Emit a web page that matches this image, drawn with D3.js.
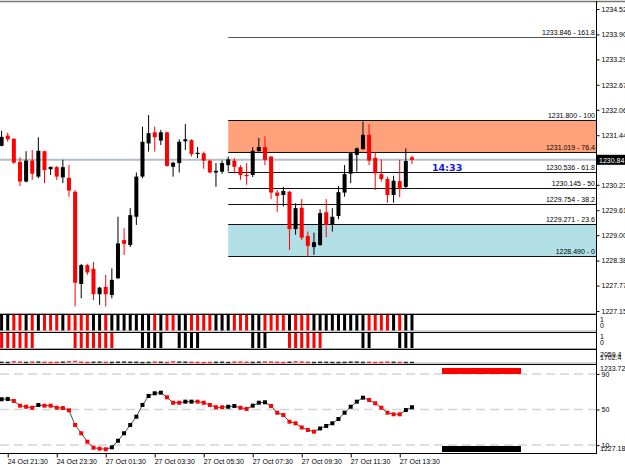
<!DOCTYPE html>
<html>
<head>
<meta charset="utf-8">
<script src="https://cdn.jsdelivr.net/npm/d3@7"></script>
<style>
body{margin:0;background:#fff;}
text{font-family:"Liberation Sans",Arial,sans-serif;}
</style>
</head>
<body>
<div id="chart"></div>
<script>
// M15 candles, 24 Oct 21:15 -> 27 Oct 14:00
const opens  = [1231.18,1231.43,1231.35,1230.79,1230.31,1230.82,1230.43,1231.05,1230.61,1230.66,1230.41,1230.40,1230.06,1227.81,1228.27,1228.18,1227.56,1227.74,1227.54,1227.95,1228.88,1228.76,1229.45,1230.43,1231.24,1231.51,1231.31,1231.51,1230.67,1230.76,1231.29,1231.32,1230.98,1231.00,1230.82,1230.53,1230.55,1230.71,1230.82,1230.66,1230.47,1230.47,1231.05,1231.15,1230.92,1230.04,1229.98,1230.06,1229.15,1229.67,1228.98,1228.71,1228.76,1229.56,1229.25,1229.47,1230.04,1230.50,1230.96,1231.10,1231.45,1230.89,1230.49,1230.37,1229.98,1230.32,1230.18,1230.90];
const highs  = [1231.55,1231.50,1231.37,1230.90,1231.05,1231.08,1231.39,1231.06,1230.67,1230.69,1230.84,1230.71,1230.10,1228.30,1228.30,1228.35,1227.74,1228.03,1228.19,1229.45,1229.17,1229.66,1230.53,1231.65,1231.93,1231.65,1231.57,1231.53,1230.79,1231.34,1231.71,1231.34,1231.15,1231.04,1230.84,1230.76,1230.82,1230.92,1230.88,1230.71,1230.76,1231.15,1231.37,1231.41,1230.93,1230.10,1230.18,1230.08,1229.78,1229.88,1229.09,1229.06,1229.63,1229.88,1229.66,1230.20,1230.71,1231.01,1231.14,1231.77,1231.71,1231.02,1230.85,1230.43,1230.45,1230.84,1231.12,1230.94];
const lows   = [1231.17,1231.28,1230.74,1230.20,1230.29,1230.35,1230.39,1230.27,1230.47,1230.35,1230.27,1229.94,1227.26,1227.46,1228.03,1227.42,1227.30,1227.26,1227.46,1227.93,1228.52,1228.71,1229.25,1230.39,1231.04,1231.04,1231.20,1230.67,1230.43,1230.53,1231.08,1230.92,1230.88,1230.62,1230.51,1230.18,1230.50,1230.55,1230.51,1230.35,1230.23,1230.42,1231.04,1230.71,1229.88,1229.57,1229.70,1228.64,1229.01,1228.88,1228.48,1228.52,1228.74,1228.95,1229.09,1229.39,1229.94,1230.27,1230.55,1231.09,1230.71,1230.10,1230.31,1229.79,1229.79,1229.93,1230.15,1230.74];
const closes = [1231.40,1231.34,1230.77,1230.31,1230.82,1230.50,1231.06,1230.59,1230.67,1230.43,1230.66,1230.09,1227.84,1228.27,1228.09,1227.56,1227.72,1227.56,1227.91,1228.80,1228.79,1229.49,1230.43,1231.28,1231.49,1231.39,1231.51,1230.69,1230.77,1231.28,1231.34,1230.98,1231.01,1230.82,1230.53,1230.57,1230.76,1230.85,1230.67,1230.47,1230.45,1231.06,1231.15,1230.84,1230.04,1229.96,1230.08,1229.15,1229.66,1228.94,1228.74,1228.83,1229.54,1229.25,1229.45,1230.05,1230.49,1231.00,1231.12,1231.45,1230.82,1230.51,1230.37,1229.98,1230.33,1230.13,1230.81,1230.84];

// indicator rows (R = red, B = black, "" = empty)
const trendColors  = "BBRRBRBRRRBRRRRBBRBBBBBBBRBRRBBRRRRBBBRRRBBRRRRBRRRBBBBBBBBBRRRRBRBB".split("");
const signalColors = ["R","R","R","R","R","R","","","","","","","R","R","R","R","R","R","R","","","","","B","B","B","B","","","B","B","B","B","","","","","","","","","B","B","B","","","","R","R","R","R","R","R","","","","","","","B","B","","","","","B","B","B"];
const volValues = [1745,1740,1760,1750,1742,1748,1752,1745,1740,1744,1750,1760,1770,1748,1742,1746,1750,1744,1741,1748,1752,1746,1745,1738,1742,1750,1746,1740,1760,1752,1749,1745,1742,1738,1740,1744,1746,1739,1750,1752,1746,1742,1748,1755,1750,1745,1740,1748,1760,1752,1744,1740,1746,1744,1741,1740,1743,1748,1750,1742,1746,1740,1744,1750,1745,1742,1741,1740];

// oscillator (0-100)
const oscValues = [61.5,61.8,59.6,54.3,53.1,52.0,55.1,54.3,54.3,52.0,51.7,49.1,32.6,23.3,13.8,7.1,6.0,5.3,7.5,14.9,23.3,32.6,41.9,55.1,65.2,68.2,68.9,63.7,57.6,57.6,58.8,58.8,58.8,57.6,55.1,52.5,52.5,53.1,53.9,52.0,50.6,54.3,57.6,58.1,53.9,46.4,43.8,36.3,34.5,29.8,27.0,25.1,28.7,31.5,34.5,39.3,46.4,53.1,58.8,63.3,60.7,57.0,52.0,46.4,44.6,44.6,49.4,52.5];
const oscColors = "BBRRRRBRRRRRRRRRRRBBBBBBBBBRRRBBRRRRRBBRRBBBRRRRRRRRBBBBBBBBRRRRRRBB".split("");
const oscLevels = [90, 50, 10];

// fibonacci retracement
const fibLevels = [0, 23.6, 38.2, 50, 61.8, 76.4, 100, 161.8];
const fibPrices = [1228.490, 1229.271, 1229.754, 1230.145, 1230.536, 1231.019, 1231.800, 1233.846];
const fibStartBar = 37;

const priceTicks = [1234.52, 1233.90, 1233.29, 1232.67, 1232.06, 1231.44, 1230.23, 1229.61, 1229.00, 1228.38, 1227.77, 1227.15];
const lastPrice = 1230.84;
const timeTickBars = [1, 9, 17, 25, 33, 41, 49, 57, 65];
const timeLabels = ["24 Oct 21:30", "24 Oct 23:30", "27 Oct 01:30", "27 Oct 03:30", "27 Oct 05:30", "27 Oct 07:30", "27 Oct 09:30", "27 Oct 11:30", "27 Oct 13:30"];

const width = 625, height = 468;
const plotRight = 596;
const RED = "#ff0000", BLACK = "#000000";
const col = c => c === "R" ? RED : BLACK;

const svg = d3.select("#chart").append("svg")
    .attr("width", width).attr("height", height)
    .style("display", "block");

const x = d3.scaleLinear().domain([0, 97]).range([1.6, 595.7]);
const y = d3.scaleLinear().domain([1227.15, 1234.52]).range([311, 9]);
const oscY = d3.scaleLinear().domain([0, 100]).range([454, 365]);
const volY = d3.scaleLinear().domain([1702.4, 2059.4]).range([363, 351]);
const bars = d3.range(opens.length);

// frame
svg.append("line").attr("x1", 0).attr("x2", width).attr("y1", 1.5).attr("y2", 1.5)
    .attr("stroke", "#777").attr("stroke-width", 1.5);

// fib zones
const fx = x(fibStartBar);
svg.append("rect").attr("x", fx).attr("width", plotRight - fx)
    .attr("y", y(fibPrices[6])).attr("height", y(fibPrices[5]) - y(fibPrices[6]))
    .attr("fill", "#ffa27c");
svg.append("rect").attr("x", fx).attr("width", plotRight - fx)
    .attr("y", y(fibPrices[1])).attr("height", y(fibPrices[0]) - y(fibPrices[1]))
    .attr("fill", "#b2e0e6");

// bid line
svg.append("line").attr("x1", 0).attr("x2", plotRight)
    .attr("y1", y(lastPrice)).attr("y2", y(lastPrice))
    .attr("stroke", "#b4bec8").attr("stroke-width", 2);

svg.append("g").selectAll("line").data(fibPrices).join("line")
    .attr("x1", fx).attr("x2", plotRight)
    .attr("y1", d => Math.round(y(d)) + 0.5).attr("y2", d => Math.round(y(d)) + 0.5)
    .attr("stroke", (d, i) => i === 7 ? "#555" : "#111").attr("stroke-width", 1);

svg.append("g").selectAll("text").data(fibPrices).join("text")
    .attr("x", plotRight - 1).attr("y", d => y(d) - 2)
    .attr("text-anchor", "end").style("font-size", "7px")
    .text((d, i) => d.toFixed(3) + " - " + fibLevels[i]);

// candles
const candles = svg.append("g");
candles.selectAll("line").data(bars).join("line")
    .attr("x1", i => x(i)).attr("x2", i => x(i))
    .attr("y1", i => y(highs[i])).attr("y2", i => y(lows[i]))
    .attr("stroke", i => closes[i] >= opens[i] ? BLACK : RED).attr("stroke-width", 1);
candles.selectAll("rect").data(bars).join("rect")
    .attr("x", i => x(i) - 2).attr("width", 4)
    .attr("y", i => y(Math.max(opens[i], closes[i])))
    .attr("height", i => Math.max(1.2, Math.abs(y(opens[i]) - y(closes[i]))))
    .attr("fill", i => closes[i] >= opens[i] ? BLACK : RED);

svg.append("text").attr("x", 432).attr("y", 171)
    .style("font-family", "DejaVu Sans").style("font-weight", "bold").style("font-size", "9.5px")
    .attr("fill", "#1818d0").text("14:33");

// panel separators
[[313.5, "#aaa"], [314.5, "#000"], [331, "#aaa"], [332.5, "#000"], [348.5, "#aaa"], [349.5, "#000"], [363, "#aaa"], [364.5, "#000"], [453.5, "#000"]]
    .forEach(([yy, c]) => svg.append("line").attr("x1", 0).attr("x2", plotRight)
        .attr("y1", yy).attr("y2", yy).attr("stroke", c).attr("stroke-width", 1));

// panel 1 & 2
svg.append("g").selectAll("rect").data(bars).join("rect")
    .attr("x", i => x(i) - 1.5).attr("width", 3).attr("y", 315).attr("height", 15.5)
    .attr("fill", i => col(trendColors[i]));
svg.append("g").selectAll("rect").data(bars.filter(i => signalColors[i] !== "")).join("rect")
    .attr("x", i => x(i) - 1.5).attr("width", 3).attr("y", 333).attr("height", 15)
    .attr("fill", i => col(signalColors[i]));

// panel 3
svg.append("g").selectAll("rect").data(bars).join("rect")
    .attr("x", i => x(i) - 2).attr("width", 4).attr("y", i => volY(volValues[i])).attr("height", 1.5)
    .attr("fill", i => col(trendColors[i])).attr("opacity", 0.8);

// panel 4
svg.append("g").selectAll("line").data(oscLevels).join("line")
    .attr("x1", 0).attr("x2", plotRight)
    .attr("y1", d => oscY(d)).attr("y2", d => oscY(d))
    .attr("stroke", "#d4d4d4").attr("stroke-width", 1.5).attr("stroke-dasharray", "9,5");

svg.append("rect").attr("x", 442).attr("width", 79).attr("y", 368).attr("height", 6).attr("fill", RED);
svg.append("rect").attr("x", 442).attr("width", 79).attr("y", 446).attr("height", 6).attr("fill", BLACK);

svg.append("path").datum(bars)
    .attr("d", d3.line().x(i => x(i)).y(i => oscY(oscValues[i])))
    .attr("fill", "none").attr("stroke", "#222").attr("stroke-width", 0.8);
svg.append("g").selectAll("rect").data(bars).join("rect")
    .attr("x", i => x(i) - 2).attr("y", i => oscY(oscValues[i]) - 2)
    .attr("width", 4).attr("height", 4)
    .attr("fill", i => col(oscColors[i]));

// right axes
svg.append("line").attr("x1", plotRight + 0.5).attr("x2", plotRight + 0.5)
    .attr("y1", 1).attr("y2", 454).attr("stroke", "#000");

const priceAxis = svg.append("g").attr("transform", `translate(${plotRight + 0.5},0)`)
    .call(d3.axisRight(y).tickValues(priceTicks).tickFormat(d3.format(".2f")).tickSize(3).tickPadding(2));
priceAxis.select(".domain").remove();

const oscAxis = svg.append("g").attr("transform", `translate(${plotRight + 0.5},0)`)
    .call(d3.axisRight(oscY).tickValues(oscLevels).tickSize(3).tickPadding(2));
oscAxis.select(".domain").remove();

svg.selectAll(".tick text").style("font-size", "7px").style("font-family", "Liberation Sans");

const sideLabels = [["1", 322], ["0", 328], ["1", 339], ["0", 345], ["2059.4", 357], ["1702.4", 360], ["1233.72", 371], ["1227.18", 451]];
svg.append("g").selectAll("text").data(sideLabels).join("text")
    .attr("x", plotRight + 4).attr("y", d => d[1]).style("font-size", "7px").text(d => d[0]);

svg.append("rect").attr("x", plotRight + 1).attr("y", y(lastPrice) - 5).attr("width", 30).attr("height", 10).attr("fill", "#000");
svg.append("text").attr("x", plotRight + 3).attr("y", y(lastPrice) + 3)
    .attr("fill", "#fff").style("font-size", "7px").text(lastPrice.toFixed(2));

// time axis
const timeAxis = svg.append("g").attr("transform", "translate(0,453.5)")
    .call(d3.axisBottom(x).tickValues(timeTickBars).tickFormat((d, i) => timeLabels[i]).tickSize(4).tickPadding(2));
timeAxis.select(".domain").remove();
timeAxis.selectAll("text").attr("text-anchor", "start").attr("dx", "-0.5").style("font-size", "7px");
</script>
</body>
</html>
